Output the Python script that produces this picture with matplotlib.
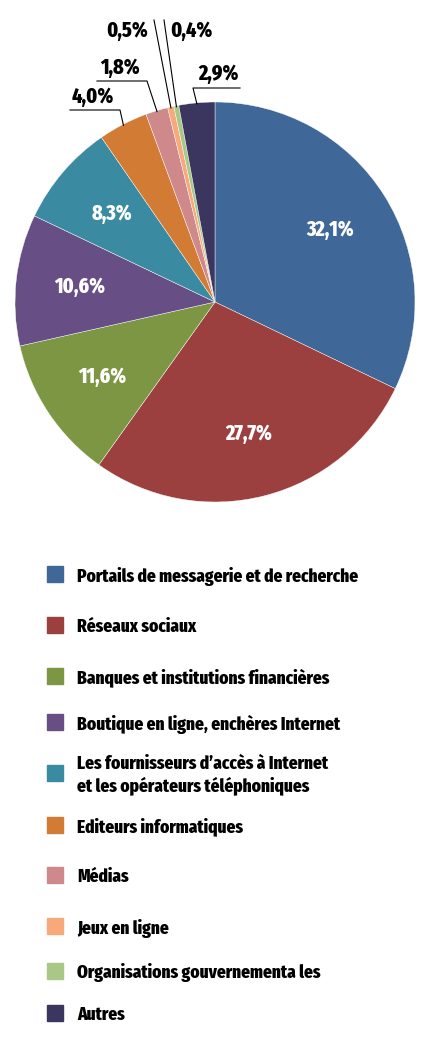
import numpy as np
import matplotlib
matplotlib.use('Agg')
import matplotlib.pyplot as plt
from matplotlib.patches import Rectangle

categories = [
    'Portails de messagerie et de recherche',
    'Réseaux sociaux',
    'Banques et institutions financières',
    'Boutique en ligne, enchères Internet',
    'Les fournisseurs d\u2019accès à Internet\net les opérateurs téléphoniques',
    'Editeurs informatiques',
    'Médias',
    'Jeux en ligne',
    'Organisations gouvernementa les',
    'Autres',
]
shares = [32.1, 27.7, 11.6, 10.6, 8.3, 4.0, 1.8, 0.5, 0.4, 2.9]
pct_labels = ['32,1%', '27,7%', '11,6%', '10,6%', '8,3%', '4,0%', '1,8%', '0,5%', '0,4%', '2,9%']
colors = ['#3F6899', '#9B403E', '#7D9643', '#674F86', '#3A8BA1',
          '#D17B35', '#D0898A', '#F7A97C', '#A9C888', '#3A3660']

plt.rcParams['font.family'] = ['Fira Sans Extra Condensed', 'Fira Sans Condensed',
                               'PT Sans Narrow', 'DejaVu Sans']
plt.rcParams['font.weight'] = 800

W, H = 428, 1040
fig = plt.figure(figsize=(W / 100, H / 100), dpi=100)
ax = fig.add_axes([0, 0, 1, 1])
ax.axis('off')

cx, cy, R = 215, H - 302, 200
wedges, _ = ax.pie(shares, colors=colors, startangle=90, counterclock=False,
                   center=(cx, cy), radius=R,
                   wedgeprops=dict(edgecolor='white', linewidth=0.3))
ax.set_xlim(0, W)
ax.set_ylim(0, H)
ax.set_aspect('equal')


def edge_point(w, r=R):
    a = np.deg2rad((w.theta1 + w.theta2) / 2)
    return cx + r * np.cos(a), cy + r * np.sin(a)


# labels inside the big slices
for w, lab in zip(wedges[:5], pct_labels[:5]):
    x, y = edge_point(w, R * 0.68)
    ax.text(x, y, lab, color='white', fontsize=15.5, ha='center', va='center')

# small slices: label + leader line  (text pos, elbow points)
outside = {
    5: dict(txt=(93, 97), ha='center', line=[(70, 110), (120, 110)]),
    6: dict(txt=(120, 68), ha='center', line=[(97, 81), (147, 81)]),
    7: dict(txt=(148, 31), ha='right', line=[(154, 20)]),
    8: dict(txt=(170, 31), ha='left', line=[(164, 20)]),
    9: dict(txt=(218, 74), ha='center', line=[(240, 88), (193, 88)]),
}
for i, o in outside.items():
    ex, ey = edge_point(wedges[i], R - 1)
    pts = [(x, H - y) for x, y in o['line']] + [(ex, ey)]
    xs, ys = zip(*pts)
    ax.plot(xs, ys, color='black', lw=0.8)
    tx, ty = o['txt']
    ax.text(tx, H - ty, pct_labels[i], color='black', fontsize=15.5,
            ha=o['ha'], va='center')

# legend rows (pixel rows from the top)
rows = [576, 627, 678, 724, 775, 827, 877, 928, 973, 1015]
for y_px, lab, c in zip(rows, categories, colors):
    y = H - y_px
    ax.add_patch(Rectangle((47, y - 6), 16, 16, color=c))
    ax.text(77, y, lab, fontsize=13.5, ha='left', va='center', linespacing=1.2)

fig.savefig('out.png', dpi=100)
